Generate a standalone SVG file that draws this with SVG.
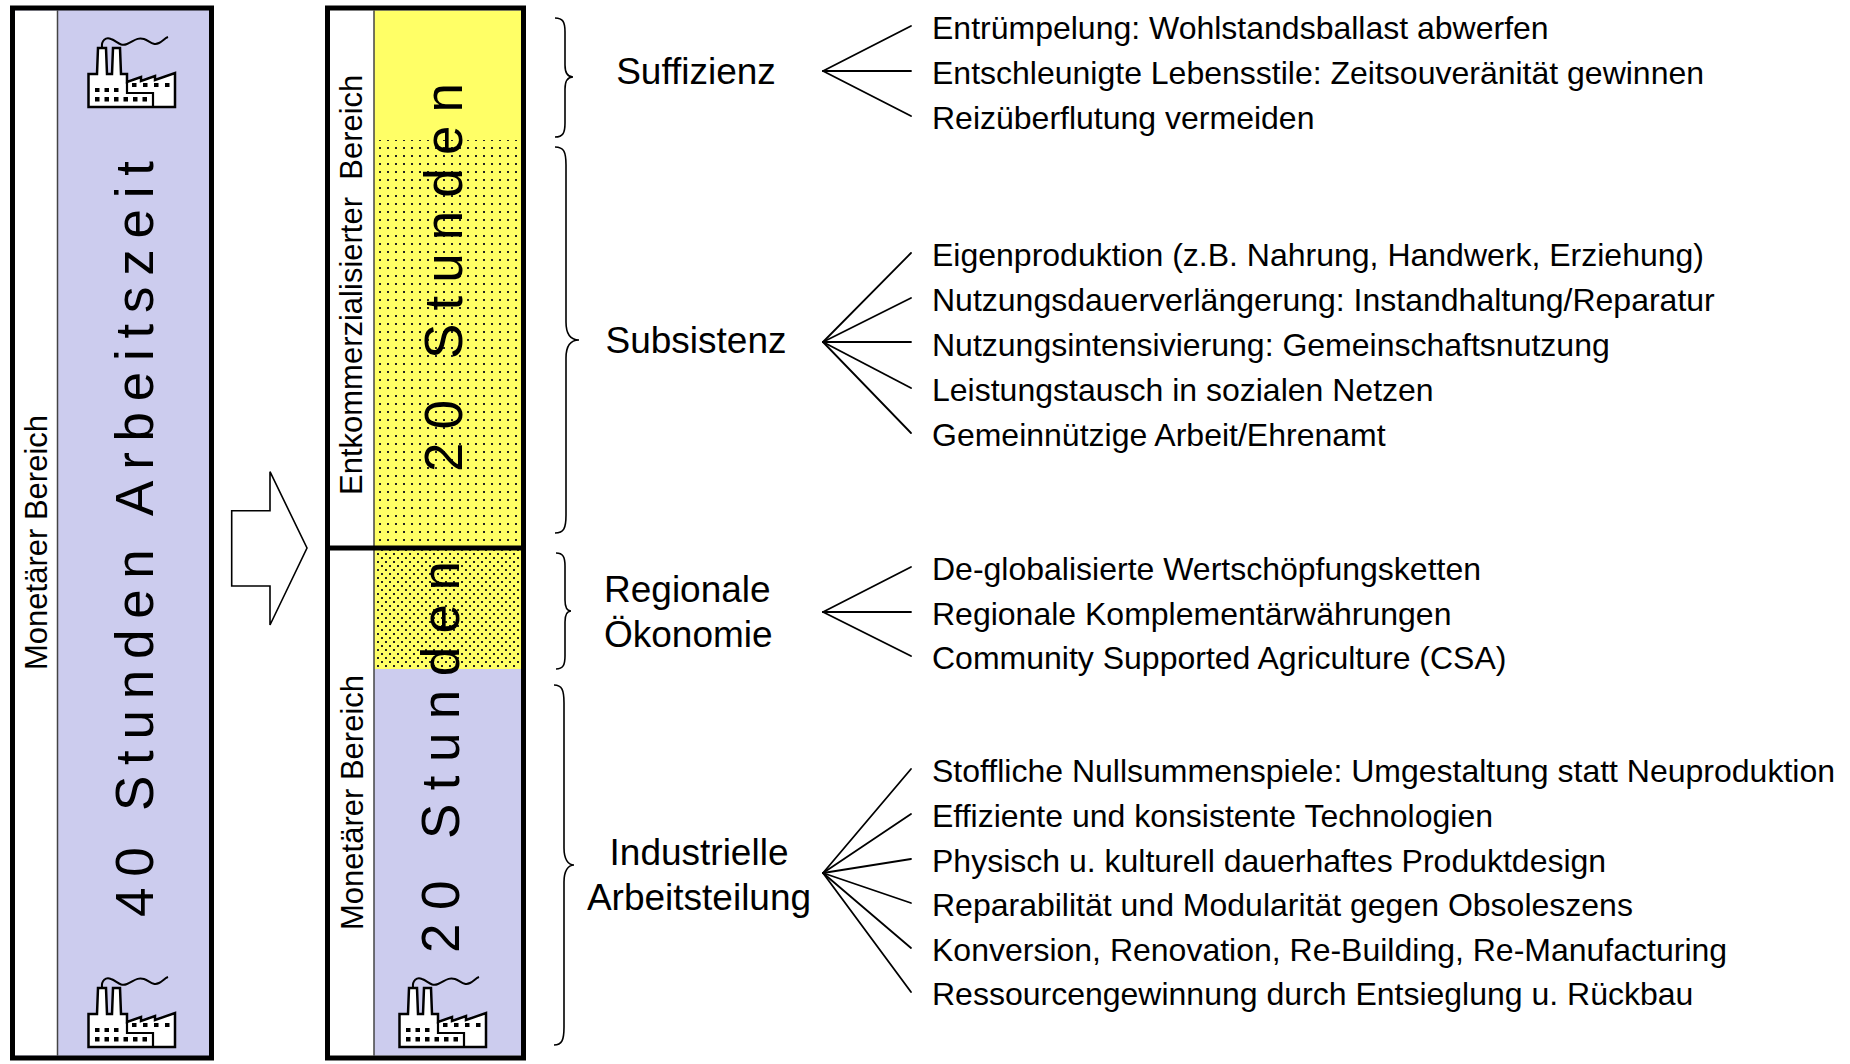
<svg xmlns="http://www.w3.org/2000/svg" width="1850" height="1064" viewBox="0 0 1850 1064">
<style>
.t{font-family:"Liberation Sans",Arial,sans-serif;fill:#000}
.item{font-size:32px}
.cat{font-size:37px}
.vlab{font-size:31px}
.big{font-size:53px}
.fan line{stroke:#000;stroke-width:1.8;stroke-linecap:round}
.brace{fill:none;stroke:#000;stroke-width:1.6}
.frame{fill:none;stroke:#000;stroke-width:5}
.div{stroke:#444;stroke-width:1.5}
</style>
<defs>
<pattern id="dots1" width="8" height="8" patternUnits="userSpaceOnUse">
<rect x="3" y="3" width="2" height="2" fill="#222"/>
</pattern>
<pattern id="dots2" width="8" height="8" patternUnits="userSpaceOnUse">
<rect x="1" y="1" width="2" height="2" fill="#222"/>
<rect x="5" y="5" width="2" height="2" fill="#222"/>
</pattern>
<g id="factory">
<path d="M15,13 C14,5 19,2 24,4 C30,6 33,12 40,9 C47,6 50,2 57,4 C63,6 66,11 72,8 C76,6 78,3 81,2" fill="none" stroke="#000" stroke-width="2"/>
<path d="M1.5,72 V39 H10 L11,13 H19 L20,39 H25 L26,13 H33 L34,39 H40 V47 L54,42 V46 L68,41 V45 L88,38 V72 Z" fill="#fff" stroke="#000" stroke-width="2.5" stroke-linejoin="miter"/>
<path d="M40,47 V58 H66 V72" fill="none" stroke="#000" stroke-width="2.2"/>
<g fill="#000">
<rect x="8" y="53" width="4.5" height="4"/><rect x="17.5" y="53" width="4.5" height="4"/><rect x="27" y="53" width="4.5" height="4"/>
<rect x="45" y="48" width="4.5" height="4"/><rect x="56" y="48" width="4.5" height="4"/><rect x="67" y="48" width="4.5" height="4"/><rect x="78" y="48" width="4.5" height="4"/>
<rect x="8" y="62" width="4.5" height="4.5"/><rect x="17.5" y="62" width="4.5" height="4.5"/><rect x="27" y="62" width="4.5" height="4.5"/><rect x="36.5" y="62" width="4.5" height="4.5"/><rect x="46" y="62" width="4.5" height="4.5"/><rect x="55.5" y="62" width="4.5" height="4.5"/>
</g>
</g>
</defs>
<rect width="1850" height="1064" fill="#fff"/>

<g id="bar-40h">
<rect x="12.5" y="8" width="199" height="1050" fill="#CCCCEE"/>
<rect x="15" y="10.5" width="42.5" height="1045" fill="#fff"/>
<line class="div" x1="57.5" y1="10.5" x2="57.5" y2="1055.5"/>
<use href="#factory" x="87" y="35"/>
<use href="#factory" x="87" y="975"/>
<text class="t vlab" transform="rotate(-90 47 670)" x="47" y="670">Monetärer Bereich</text>
<text class="t big" transform="rotate(-90 153 917)" x="153" y="917" textLength="756" lengthAdjust="spacing">40 Stunden Arbeitszeit</text>
<rect class="frame" x="12.5" y="8" width="199" height="1050"/>
</g>

<g id="arrow">
<polygon points="231.7,510.7 270,510.7 270,471.7 307,548 270,625 270,586 231.7,586" fill="#fff" stroke="#000" stroke-width="1.6"/>
</g>

<g id="bar-20h-20h">
<rect x="330" y="10.5" width="44" height="1045" fill="#fff"/>
<rect x="374" y="10.5" width="147.5" height="658.5" fill="#FFFF66"/>
<rect x="375" y="140" width="146.5" height="408" fill="url(#dots1)"/>
<rect x="375" y="548" width="146.5" height="121" fill="url(#dots2)"/>
<rect x="374" y="669" width="147.5" height="386.5" fill="#CCCCEE"/>
<line class="div" x1="374" y1="10.5" x2="374" y2="1055.5"/>
<use href="#factory" x="398" y="975"/>
<text class="t vlab" xml:space="preserve" transform="rotate(-90 362 495)" x="362" y="495">Entkommerzialisierter  Bereich</text>
<text class="t vlab" transform="rotate(-90 363 930)" x="363" y="930">Monetärer Bereich</text>
<text class="t big" transform="rotate(-90 462 472)" x="462" y="472" textLength="389" lengthAdjust="spacing">20 Stunden</text>
<text class="t big" transform="rotate(-90 459 953)" x="459" y="953" textLength="392" lengthAdjust="spacing">20 Stunden</text>
<line x1="325" y1="548" x2="526" y2="548" stroke="#000" stroke-width="5"/>
<rect class="frame" x="327.5" y="8" width="196" height="1050"/>
</g>

<g id="braces">
<path class="brace" d="M555,18 C563,18 565,22 565,32 V65 C565,73 568,77 573,77 C568,77 565,81 565,89 V123 C565,133 563,137 555,137"/>
<path class="brace" d="M555,147 C564,147 566,152 566,165 V322 C566,334 570,340 579,340 C570,340 566,346 566,358 V515 C566,528 564,533 555,533"/>
<path class="brace" d="M556,553 C563,553 565,557 565,566 V600 C565,607 567,611 571,611 C567,611 565,615 565,622 V656 C565,665 563,669 556,669"/>
<path class="brace" d="M554,685 C562,685 564,690 564,703 V848 C564,859 568,865 574,865 C568,865 564,871 564,882 V1027 C564,1040 562,1045 554,1045"/>
</g>

<g id="suffizienz">
<text class="t cat" x="696" y="84" text-anchor="middle">Suffizienz</text>
<text class="t item" x="932" y="39">Entrümpelung: Wohlstandsballast abwerfen</text>
<text class="t item" x="932" y="84">Entschleunigte Lebensstile: Zeitsouveränität gewinnen</text>
<text class="t item" x="932" y="129">Reizüberflutung vermeiden</text>
</g>

<g id="subsistenz">
<text class="t cat" x="696" y="353" text-anchor="middle">Subsistenz</text>
<text class="t item" x="932" y="266">Eigenproduktion (z.B. Nahrung, Handwerk, Erziehung)</text>
<text class="t item" x="932" y="311">Nutzungsdauerverlängerung: Instandhaltung/Reparatur</text>
<text class="t item" x="932" y="356">Nutzungsintensivierung: Gemeinschaftsnutzung</text>
<text class="t item" x="932" y="401">Leistungstausch in sozialen Netzen</text>
<text class="t item" x="932" y="446">Gemeinnützige Arbeit/Ehrenamt</text>
</g>

<g id="regionale-oekonomie">
<text class="t cat" x="604" y="602">Regionale</text>
<text class="t cat" x="604" y="647">Ökonomie</text>
<text class="t item" x="932" y="580">De-globalisierte Wertschöpfungsketten</text>
<text class="t item" x="932" y="625">Regionale Komplementärwährungen</text>
<text class="t item" x="932" y="669">Community Supported Agriculture (CSA)</text>
</g>

<g id="industrielle-arbeitsteilung">
<text class="t cat" x="699" y="865" text-anchor="middle">Industrielle</text>
<text class="t cat" x="699" y="910" text-anchor="middle">Arbeitsteilung</text>
<text class="t item" x="932" y="782">Stoffliche Nullsummenspiele: Umgestaltung statt Neuproduktion</text>
<text class="t item" x="932" y="827">Effiziente und konsistente Technologien</text>
<text class="t item" x="932" y="872">Physisch u. kulturell dauerhaftes Produktdesign</text>
<text class="t item" x="932" y="916">Reparabilität und Modularität gegen Obsoleszens</text>
<text class="t item" x="932" y="961">Konversion, Renovation, Re-Building, Re-Manufacturing</text>
<text class="t item" x="932" y="1005">Ressourcengewinnung durch Entsieglung u. Rückbau</text>
</g>

<g id="connectors" class="fan">
<line x1="823" y1="71" x2="911" y2="26"/>
<line x1="823" y1="71" x2="911" y2="71"/>
<line x1="823" y1="71" x2="911" y2="116"/>
<line x1="823" y1="342" x2="911" y2="253"/>
<line x1="823" y1="342" x2="911" y2="298"/>
<line x1="823" y1="342" x2="911" y2="342"/>
<line x1="823" y1="342" x2="911" y2="388"/>
<line x1="823" y1="342" x2="911" y2="433"/>
<line x1="823" y1="612" x2="911" y2="567"/>
<line x1="823" y1="612" x2="911" y2="612"/>
<line x1="823" y1="612" x2="911" y2="656"/>
<line x1="823" y1="873" x2="911" y2="769"/>
<line x1="823" y1="873" x2="911" y2="814"/>
<line x1="823" y1="873" x2="911" y2="859"/>
<line x1="823" y1="873" x2="911" y2="903"/>
<line x1="823" y1="873" x2="911" y2="948"/>
<line x1="823" y1="873" x2="911" y2="992"/>
</g>
</svg>
